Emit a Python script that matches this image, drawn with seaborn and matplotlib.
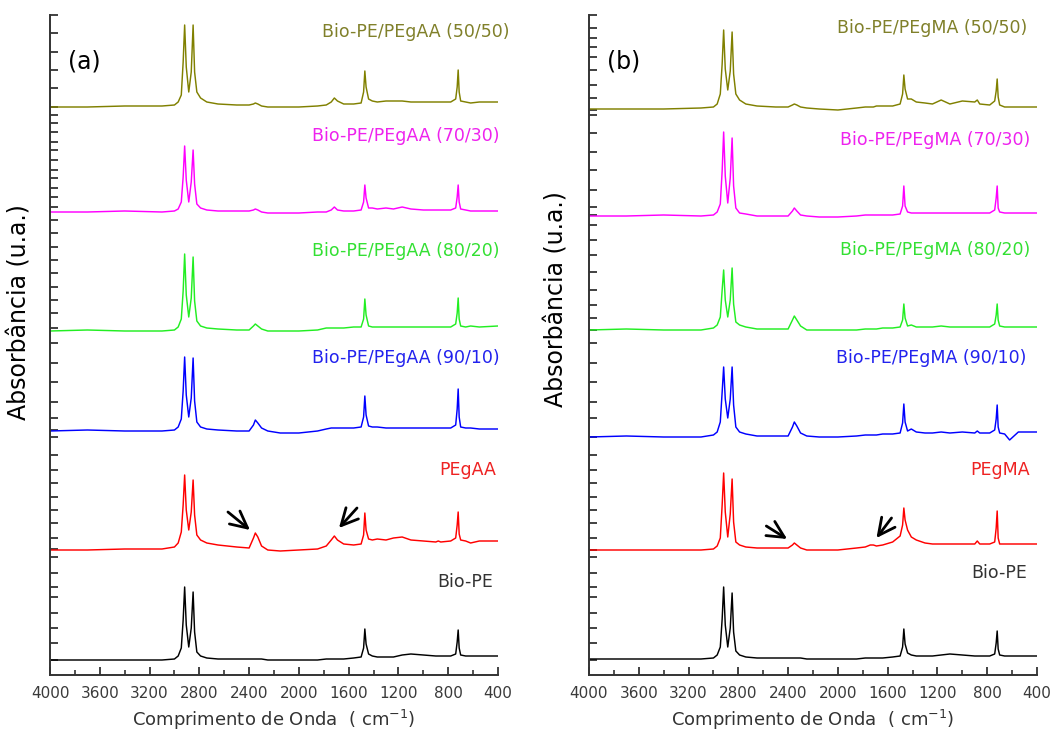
import numpy as np
import pandas as pd
import matplotlib
matplotlib.use("Agg")
import matplotlib.pyplot as plt
from matplotlib.ticker import MultipleLocator, FixedLocator
import seaborn as sns

# ---------------------------------------------------------------- data
# Shared wavenumber grid (cm-1), denser around the absorption bands
wavenumber = [4000, 3700, 3400, 3100, 3000, 2970, 2945, 2930, 2918, 2905,
              2885, 2865, 2850, 2838, 2820, 2790, 2740, 2650, 2500, 2400,
              2365, 2350, 2330, 2300, 2250, 2150, 2000, 1850, 1780, 1740,
              1715, 1690, 1640, 1560, 1500, 1480, 1470, 1460, 1440, 1410,
              1370, 1300, 1240, 1170, 1100, 1000, 900, 880, 860, 780,
              740, 728, 720, 712, 700, 660, 620, 550, 400]

# Panel (a): Bio-PE / PEgAA blends (absorbance, a.u., above each baseline)
a_bio_pe = [0, 0, 0, 0, 0.01, 0.04, 0.12, 0.40, 0.73, 0.35,
            0.13, 0.32, 0.68, 0.28, 0.08, 0.04, 0.02, 0.01, 0.01, 0.01,
            0.01, 0.01, 0.01, 0.01, 0.0, 0.0, 0.0, 0.0, 0.01, 0.01,
            0.01, 0.01, 0.01, 0.02, 0.03, 0.12, 0.31, 0.16, 0.06, 0.04,
            0.03, 0.03, 0.03, 0.05, 0.06, 0.05, 0.04, 0.04, 0.04, 0.04,
            0.06, 0.18, 0.30, 0.12, 0.05, 0.04, 0.04, 0.04, 0.04]
a_pegaa = [0, 0, 0.01, 0.01, 0.03, 0.07, 0.18, 0.45, 0.75, 0.40,
           0.20, 0.38, 0.70, 0.35, 0.15, 0.10, 0.07, 0.05, 0.03, 0.02,
           0.12, 0.17, 0.13, 0.04, 0.0, -0.01, 0.0, 0.01, 0.04, 0.10,
           0.14, 0.10, 0.06, 0.05, 0.06, 0.15, 0.37, 0.20, 0.11, 0.10,
           0.11, 0.10, 0.12, 0.13, 0.10, 0.09, 0.08, 0.09, 0.08, 0.09,
           0.12, 0.25, 0.38, 0.16, 0.10, 0.09, 0.07, 0.09, 0.09]
a_90_10 = [0, 0.01, 0, 0, 0.01, 0.04, 0.12, 0.40, 0.74, 0.36,
           0.14, 0.33, 0.73, 0.30, 0.09, 0.04, 0.02, 0.01, 0.0, 0.0,
           0.06, 0.11, 0.08, 0.03, 0.0, -0.02, -0.02, 0.0, 0.02, 0.03,
           0.03, 0.03, 0.03, 0.03, 0.04, 0.14, 0.35, 0.16, 0.05, 0.04,
           0.04, 0.03, 0.03, 0.03, 0.03, 0.03, 0.03, 0.03, 0.03, 0.03,
           0.06, 0.22, 0.42, 0.14, 0.04, 0.03, 0.03, 0.02, 0.02]
a_80_20 = [0, 0.01, 0, 0, 0.01, 0.04, 0.12, 0.40, 0.77, 0.36,
           0.14, 0.33, 0.74, 0.30, 0.10, 0.05, 0.03, 0.02, 0.01, 0.01,
           0.05, 0.07, 0.05, 0.02, 0.0, 0.0, 0.0, 0.01, 0.03, 0.03,
           0.03, 0.03, 0.03, 0.04, 0.04, 0.12, 0.32, 0.16, 0.05, 0.04,
           0.04, 0.04, 0.04, 0.04, 0.04, 0.04, 0.04, 0.04, 0.04, 0.04,
           0.07, 0.18, 0.33, 0.12, 0.05, 0.04, 0.05, 0.04, 0.05]
a_70_30 = [0, 0, 0.01, 0, 0.01, 0.03, 0.10, 0.35, 0.66, 0.32,
           0.10, 0.30, 0.62, 0.28, 0.08, 0.04, 0.02, 0.01, 0.01, 0.01,
           0.02, 0.03, 0.02, 0.0, -0.01, -0.01, -0.01, 0.0, 0.0, 0.02,
           0.05, 0.02, 0.01, 0.01, 0.02, 0.10, 0.27, 0.14, 0.04, 0.04,
           0.03, 0.04, 0.03, 0.05, 0.03, 0.02, 0.02, 0.02, 0.02, 0.02,
           0.04, 0.15, 0.27, 0.10, 0.03, 0.02, 0.01, 0.01, 0.01]
a_50_50 = [0, 0, 0.01, 0.01, 0.02, 0.05, 0.12, 0.45, 0.82, 0.40,
           0.15, 0.35, 0.82, 0.35, 0.15, 0.09, 0.05, 0.03, 0.02, 0.02,
           0.03, 0.04, 0.03, 0.01, 0.0, 0.0, 0.0, 0.01, 0.02, 0.05,
           0.09, 0.06, 0.03, 0.03, 0.04, 0.15, 0.36, 0.20, 0.08, 0.06,
           0.05, 0.06, 0.06, 0.06, 0.05, 0.05, 0.05, 0.05, 0.05, 0.05,
           0.08, 0.20, 0.37, 0.15, 0.06, 0.05, 0.04, 0.05, 0.05]

# Panel (b): Bio-PE / PEgMA blends
b_bio_pe = [0, 0, 0, 0, 0.01, 0.04, 0.12, 0.40, 0.72, 0.34,
            0.12, 0.31, 0.66, 0.27, 0.08, 0.04, 0.02, 0.01, 0.01, 0.01,
            0.01, 0.01, 0.01, 0.01, 0.0, 0.0, 0.0, 0.0, 0.01, 0.01,
            0.01, 0.01, 0.01, 0.02, 0.03, 0.12, 0.30, 0.15, 0.06, 0.04,
            0.03, 0.03, 0.03, 0.04, 0.05, 0.04, 0.03, 0.03, 0.03, 0.03,
            0.05, 0.16, 0.28, 0.10, 0.04, 0.03, 0.03, 0.03, 0.03]
b_pegma = [0, 0, 0, 0, 0.01, 0.04, 0.12, 0.45, 0.77, 0.38,
           0.13, 0.36, 0.71, 0.28, 0.08, 0.05, 0.03, 0.02, 0.02, 0.02,
           0.05, 0.07, 0.05, 0.02, 0.0, 0.0, 0.0, 0.02, 0.03, 0.05,
           0.05, 0.04, 0.05, 0.08, 0.14, 0.25, 0.42, 0.30, 0.20, 0.13,
           0.10, 0.07, 0.06, 0.06, 0.06, 0.06, 0.06, 0.09, 0.06, 0.06,
           0.08, 0.22, 0.39, 0.12, 0.06, 0.06, 0.06, 0.06, 0.06]
b_90_10 = [0, 0.01, 0, 0, 0.02, 0.05, 0.15, 0.45, 0.70, 0.38,
           0.19, 0.38, 0.70, 0.32, 0.10, 0.05, 0.03, 0.01, 0.01, 0.01,
           0.10, 0.15, 0.11, 0.04, 0.01, 0.0, 0.0, 0.01, 0.02, 0.02,
           0.02, 0.02, 0.03, 0.03, 0.04, 0.14, 0.33, 0.15, 0.06, 0.08,
           0.05, 0.04, 0.04, 0.05, 0.04, 0.05, 0.04, 0.06, 0.04, 0.04,
           0.07, 0.18, 0.32, 0.10, 0.04, 0.03, -0.03, 0.05, 0.05]
b_80_20 = [0, 0.01, 0, 0, 0.02, 0.05, 0.13, 0.40, 0.60, 0.30,
           0.13, 0.30, 0.62, 0.26, 0.08, 0.05, 0.03, 0.01, 0.01, 0.01,
           0.10, 0.14, 0.10, 0.04, 0.0, 0.0, 0.0, 0.0, 0.01, 0.01,
           0.01, 0.01, 0.02, 0.02, 0.03, 0.10, 0.26, 0.12, 0.04, 0.05,
           0.03, 0.03, 0.03, 0.04, 0.03, 0.03, 0.03, 0.03, 0.03, 0.03,
           0.06, 0.15, 0.26, 0.10, 0.04, 0.03, 0.03, 0.03, 0.03]
b_70_30 = [0, 0, 0.01, 0, 0.01, 0.04, 0.12, 0.45, 0.84, 0.40,
           0.13, 0.38, 0.78, 0.30, 0.08, 0.03, 0.02, 0.0, 0.0, 0.0,
           0.05, 0.08, 0.05, 0.01, 0.0, -0.01, -0.01, 0.0, 0.01, 0.01,
           0.01, 0.01, 0.01, 0.01, 0.02, 0.10, 0.30, 0.10, 0.04, 0.03,
           0.03, 0.03, 0.03, 0.03, 0.03, 0.03, 0.03, 0.03, 0.03, 0.03,
           0.06, 0.18, 0.30, 0.08, 0.04, 0.03, 0.03, 0.03, 0.03]
b_50_50 = [0, 0, 0, 0.01, 0.02, 0.05, 0.15, 0.45, 0.79, 0.40,
           0.19, 0.38, 0.77, 0.35, 0.15, 0.09, 0.05, 0.03, 0.02, 0.02,
           0.04, 0.05, 0.04, 0.02, 0.01, 0.0, -0.01, 0.01, 0.02, 0.02,
           0.02, 0.03, 0.03, 0.03, 0.05, 0.15, 0.34, 0.20, 0.10, 0.10,
           0.07, 0.06, 0.05, 0.09, 0.05, 0.08, 0.07, 0.09, 0.05, 0.04,
           0.08, 0.18, 0.30, 0.12, 0.04, 0.02, 0.02, 0.02, 0.02]

labels_a = ["Bio-PE", "PEgAA", "Bio-PE/PEgAA (90/10)", "Bio-PE/PEgAA (80/20)",
            "Bio-PE/PEgAA (70/30)", "Bio-PE/PEgAA (50/50)"]
labels_b = ["Bio-PE", "PEgMA", "Bio-PE/PEgMA (90/10)", "Bio-PE/PEgMA (80/20)",
            "Bio-PE/PEgMA (70/30)", "Bio-PE/PEgMA (50/50)"]
series_a = [a_bio_pe, a_pegaa, a_90_10, a_80_20, a_70_30, a_50_50]
series_b = [b_bio_pe, b_pegma, b_90_10, b_80_20, b_70_30, b_50_50]

# ---------------------------------------------------------------- style
colors = ["#000000", "#FF0000", "#0000FF", "#22EE22", "#FF00FF", "#808000"]
text_colors = ["#333333", "#EE2222", "#2222EE", "#33E033", "#EE22EE", "#80802A"]

# vertical stacking of the spectra and label placement (axis units)
offsets_a = [0.15, 1.25, 2.44, 3.44, 4.63, 5.68]
offsets_b = [0.16, 1.25, 2.38, 3.45, 4.59, 5.66]
label_xy_a = [(440, 0.93), (416, 2.05), (384, 3.17), (384, 4.24), (384, 5.39), (304, 6.43)]
label_xy_b = [(482, 1.02), (458, 2.05), (482, 3.17), (458, 4.25), (458, 5.35), (482, 6.47)]

yticks_a = [6.60, 6.42, 6.23, 6.05, 5.87, 5.68, 5.60, 5.52, 5.43, 5.33, 5.25,
            5.15, 5.05, 4.97, 4.87, 4.78, 4.68, 4.55, 4.42, 4.28, 4.15, 4.02,
            3.88, 3.75, 3.62, 3.47, 3.32, 3.12, 2.93, 2.73, 2.57, 2.45, 2.38,
            2.20, 2.05, 1.92, 1.78, 1.65, 1.52, 1.37, 1.26, 1.18, 1.02, 0.88,
            0.78, 0.62, 0.47, 0.32, 0.15]
yticks_b = [6.60, 6.47, 6.37, 6.28, 6.18, 6.05, 5.90, 5.77, 5.65, 5.60, 5.42,
            5.23, 5.05, 4.85, 4.68, 4.60, 4.50, 4.35, 4.20, 4.03, 3.85, 3.70,
            3.57, 3.45, 3.32, 3.12, 2.93, 2.73, 2.57, 2.38, 2.20, 2.05, 1.92,
            1.78, 1.65, 1.52, 1.37, 1.25, 1.18, 1.02, 0.88, 0.78, 0.62, 0.47,
            0.32, 0.15]

# arrows pointing at the grafted-group bands on the PEgAA / PEgMA traces
arrows_a = [((2570, 1.63), (2393, 1.45)), ((1533, 1.67), (1678, 1.47))]
arrows_b = [((2575, 1.49), (2408, 1.36)), ((1569, 1.57), (1690, 1.37))]

sns.set_theme(style="ticks")
plt.rcParams["font.family"] = ["DejaVu Sans"]
plt.rcParams["axes.linewidth"] = 1.4
plt.rcParams["axes.edgecolor"] = "#333333"

fig = plt.figure(figsize=(10.51, 7.38), dpi=100)
W, H = 1051, 738
ax_a = fig.add_axes([50 / W, (H - 675) / H, 448 / W, 660 / H])
ax_b = fig.add_axes([589 / W, (H - 675) / H, 448 / W, 660 / H])


def draw_panel(ax, series, labels, offsets, label_xy, yticks, arrows, tag,
               ylab_x, ylab_y):
    frames = []
    for vals, name, off in zip(series, labels, offsets):
        frames.append(pd.DataFrame({
            "wavenumber": wavenumber,
            "absorbance": np.asarray(vals) + off,
            "sample": name,
        }))
    df = pd.concat(frames, ignore_index=True)
    sns.lineplot(data=df, x="wavenumber", y="absorbance", hue="sample",
                 hue_order=labels, palette=colors, estimator=None, sort=False,
                 linewidth=1.05, legend=False, ax=ax)

    for name, (x, y), c in zip(labels, label_xy, text_colors):
        ax.text(x, y, name, ha="right", va="center", fontsize=12.5,
                color=c, clip_on=False)

    for tail, tip in arrows:
        ax.annotate("", xy=tip, xytext=tail,
                    arrowprops=dict(arrowstyle="->,head_length=1.0,head_width=0.5",
                                    lw=2.0, color="black", shrinkA=0, shrinkB=0))

    ax.text(0.04, 0.93, tag, transform=ax.transAxes, fontsize=17,
            ha="left", va="center", color="black")

    ax.set_xlim(4000, 400)
    ax.set_ylim(0, 6.6)
    ax.xaxis.set_major_locator(FixedLocator(np.arange(4000, 399, -400)))
    ax.xaxis.set_minor_locator(MultipleLocator(200))
    ax.yaxis.set_major_locator(FixedLocator(yticks))
    ax.set_yticklabels([])
    ax.tick_params(axis="both", which="major", direction="in", length=6,
                   width=1.3, color="#333333")
    ax.tick_params(axis="x", which="major", labelsize=11, labelcolor="#3a3a3a", pad=8)
    ax.tick_params(axis="x", which="minor", direction="in", length=3.5,
                   width=1.2, color="#333333")
    ax.set_xlabel("Comprimento de Onda  ( cm$^{-1}$)", fontsize=13,
                  color="#333333")
    ax.xaxis.set_label_coords(0.5, -0.05)
    ax.set_ylabel("Absorbância (u.a.)", fontsize=17, color="black")
    ax.yaxis.set_label_coords(ylab_x, ylab_y)
    sns.despine(ax=ax)


draw_panel(ax_a, series_a, labels_a, offsets_a, label_xy_a, yticks_a, arrows_a,
           "(a)", -0.042, 0.55)
draw_panel(ax_b, series_b, labels_b, offsets_b, label_xy_b, yticks_b, arrows_b,
           "(b)", -0.045, 0.57)

fig.savefig("out.png", dpi=100)
